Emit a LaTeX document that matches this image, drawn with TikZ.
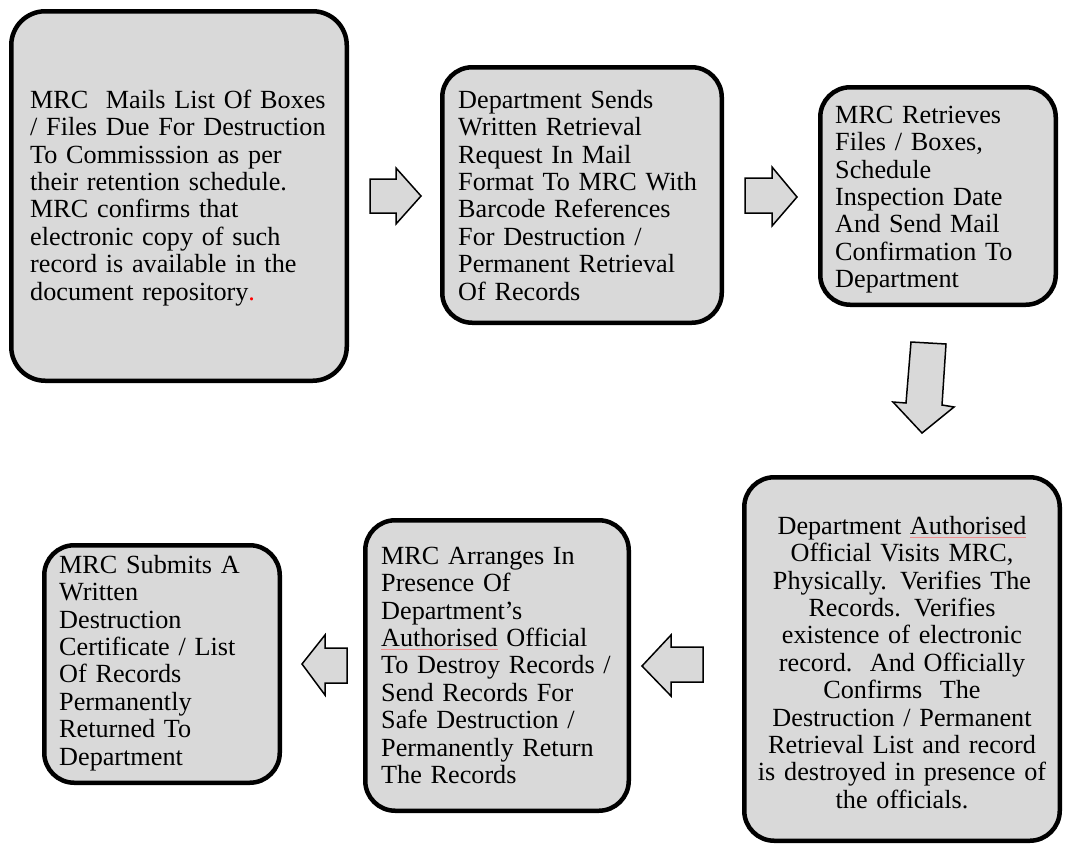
\documentclass[tikz,border=0pt]{standalone}
\usepackage{fontspec}
\setmainfont{Liberation Serif}
\usetikzlibrary{calc}
\definecolor{boxfill}{HTML}{D9D9D9}
\definecolor{spellred}{HTML}{F09090}
\newsavebox\spellbox
\newcommand\spellul[1]{\leavevmode\sbox\spellbox{#1}\usebox\spellbox\llap{\textcolor{spellred}{\rule[-3.5pt]{\wd\spellbox}{0.6pt}}}}
\begin{document}
\begin{tikzpicture}[x=1pt,y=-1pt,
  stepbox/.style={draw=black, line width=4.5pt, fill=boxfill, rounded corners=30pt, inner sep=0pt},
  boxtext/.style={inner sep=0pt, text width=340pt, align=left, anchor=north west,
    font=\fontsize{26.2}{27.4}\selectfont},
  blockarrow/.style={draw=black, line width=1.5pt, fill=boxfill, line join=miter}]
\useasboundingbox (0,0) rectangle (1065,847);
\fill[white] (0,0) rectangle (1065,847);

% boxes
\node[stepbox, rounded corners=34pt, minimum width=335.5pt, minimum height=369.5pt] (b1) at (179,196) {};
\node[stepbox, minimum width=279.5pt, minimum height=255.5pt] (b2) at (582,195) {};
\node[stepbox, minimum width=235.5pt, minimum height=217.5pt] (b3) at (938,196) {};
\node[stepbox, minimum width=315.5pt, minimum height=363.5pt] (b4) at (902,659) {};
\node[stepbox, minimum width=263.5pt, minimum height=290.5pt] (b5) at (497,665.5) {};
\node[stepbox, minimum width=235.5pt, minimum height=237.5pt] (b6) at (162,664) {};

% texts
\node[boxtext] (t1) at (30,88) {\rule{0pt}{20pt}MRC\ \ Mails List Of Boxes\\/ Files Due For Destruction\\To Commisssion as per\\their retention schedule.\\MRC confirms that\\electronic copy of such\\record is available in the\\document repository\textcolor{red}{.}};
\node[boxtext] (t2) at (458,88) {\rule{0pt}{20pt}Department Sends\\Written Retrieval\\Request In Mail\\Format To MRC With\\Barcode References\\For Destruction /\\Permanent Retrieval\\Of Records};
\node[boxtext] (t3) at (835,103) {\rule{0pt}{20pt}MRC Retrieves\\Files / Boxes,\\Schedule\\Inspection Date\\And Send Mail\\Confirmation To\\Department};
\node[boxtext, anchor=north, text width=310pt, align=center] (t4) at (902,514) {\rule{0pt}{20pt}Department \spellul{Authorised}\\Official Visits MRC,\\Physically. Verifies The\\Records. Verifies\\existence of electronic\\record.\ \ And Officially\\Confirms\ \ The\\Destruction / Permanent\\Retrieval List and record\\is destroyed in presence of\\the officials.};
\node[boxtext] (t5) at (381,544) {\rule{0pt}{20pt}MRC Arranges In\\Presence Of\\Department’s\\\spellul{Authorised} Official\\To Destroy Records /\\Send Records For\\Safe Destruction /\\Permanently Return\\The Records};
\node[boxtext] (t6) at (59,553) {\rule{0pt}{20pt}MRC Submits A\\Written\\Destruction\\Certificate / List\\Of Records\\Permanently\\Returned To\\Department};

% block arrows (connectors between the boxes)
\draw[blockarrow] (370,179) -- (396,179) -- (396,168) -- (421,196) -- (396,224) -- (396,213) -- (370,213) -- cycle;
\draw[blockarrow] (745,178) -- (772,178) -- (772,167) -- (797,197) -- (772,226) -- (772,213) -- (745,213) -- cycle;
\draw[blockarrow] (911,342) -- (946,344) -- (942,405) -- (954,407) -- (922,433) -- (893,402) -- (906,403) -- cycle;
\draw[blockarrow] (703,647) -- (671,647) -- (671,635) -- (642,666) -- (671,696) -- (671,682) -- (703,682) -- cycle;
\draw[blockarrow] (347,648) -- (325,648) -- (325,635) -- (302,664) -- (325,695) -- (325,683) -- (347,683) -- cycle;
\end{tikzpicture}
\end{document}
